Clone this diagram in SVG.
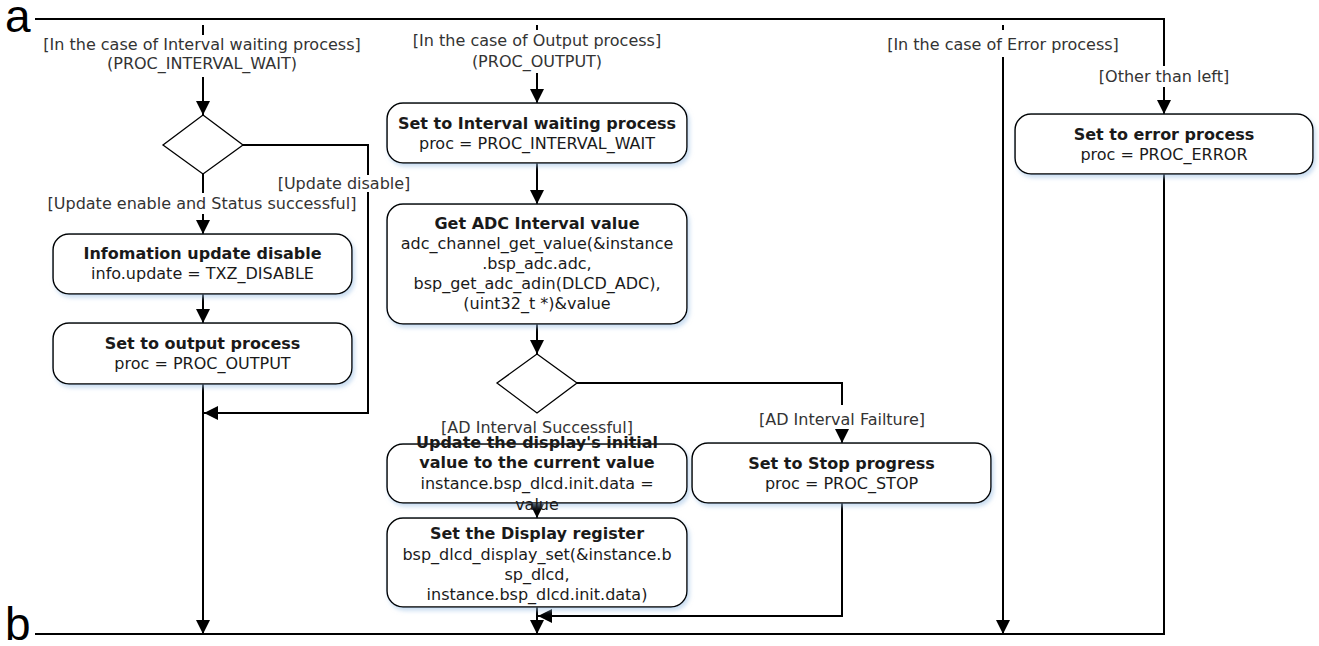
<svg xmlns="http://www.w3.org/2000/svg" width="1319" height="646" viewBox="0 0 1319 646">
<style>
.box{fill:#fff;stroke:#000;stroke-width:1.5;filter:url(#sh)}
.dia{fill:#fff;stroke:#000;stroke-width:1.3}
.c{fill:none;stroke:#000;stroke-width:2}
.a{marker-end:url(#ah)}
text{font-family:"DejaVu Sans",Verdana,sans-serif;font-size:16px;text-anchor:middle;fill:#1a1a1a}
.b{font-weight:bold}
.lbl{fill:#333}
.big{font-family:"Liberation Sans",Arial,sans-serif;font-size:46px;text-anchor:start;fill:#000}
</style>
<defs>
<marker id="ah" markerUnits="userSpaceOnUse" markerWidth="14" markerHeight="14" refX="14" refY="7" orient="auto">
<path d="M0,0 L14,7 L0,14 z" fill="#000"/>
</marker>
<filter id="sh" x="-10%" y="-20%" width="120%" height="150%">
<feDropShadow dx="2" dy="3" stdDeviation="2" flood-color="#9cc0e4" flood-opacity="0.55"/>
</filter>
</defs>
<rect width="1319" height="646" fill="#fff"/>

<g id="bars">
<text class="big" x="5" y="32">a</text>
<text class="big" x="5" y="640">b</text>
</g>

<g id="connectors">
<path class="c" d="M35,19 H1164 V66"/>
<path class="c a" d="M1164,87 V114"/>
<path class="c" d="M203,25 V35"/>
<path class="c a" d="M203,77 V115"/>
<path class="c" d="M203,174 V193"/>
<path class="c a" d="M203,214 V234"/>
<path class="c a" d="M203,294 V323"/>
<path class="c a" d="M203,384 V634"/>
<path class="c" d="M243,145 H368 V175"/>
<path class="c a" d="M368,192 V413 H204"/>
<path class="c" d="M537,25 V30"/>
<path class="c a" d="M537,73 V103"/>
<path class="c a" d="M537,163 V204"/>
<path class="c a" d="M537,324 V354"/>
<path class="c a" d="M537,503 V518"/>
<path class="c a" d="M537,607 V634"/>
<path class="c" d="M577,383 H842 V405"/>
<path class="c a" d="M842,429 V443"/>
<path class="c a" d="M842,503 V616 H538"/>
<path class="c" d="M1003,25 V30"/>
<path class="c a" d="M1003,57 V634"/>
<path class="c" d="M1164,174 V634 H35"/>
</g>

<g id="labels">
<text class="lbl" x="202" y="50">[In the case of Interval waiting process]</text>
<text class="lbl" x="202" y="69">(PROC_INTERVAL_WAIT)</text>
<text class="lbl" x="537" y="46">[In the case of Output process]</text>
<text class="lbl" x="537" y="67">(PROC_OUTPUT)</text>
<text class="lbl" x="1003" y="50">[In the case of Error process]</text>
<text class="lbl" x="1164" y="82">[Other than left]</text>
<text class="lbl" x="344" y="189">[Update disable]</text>
<text class="lbl" x="202" y="209">[Update enable and Status successful]</text>
<text class="lbl" x="537" y="433">[AD Interval Successful]</text>
<text class="lbl" x="842" y="425">[AD Interval Failture]</text>
</g>

<g id="decision1"><polygon class="dia" points="203,115 243,145 203,174 163,145"/></g>
<g id="decision2"><polygon class="dia" points="537,354 577,383 537,413 497,383"/></g>

<g id="info-update-disable">
<rect class="box" x="53" y="234" width="299" height="60" rx="16"/>
<text class="b" x="202.5" y="259">Infomation update disable</text>
<text x="202.5" y="279">info.update = TXZ_DISABLE</text>
</g>

<g id="set-output">
<rect class="box" x="53" y="323" width="299" height="61" rx="16"/>
<text class="b" x="202.5" y="349">Set to output process</text>
<text x="202.5" y="369">proc = PROC_OUTPUT</text>
</g>

<g id="set-interval-wait">
<rect class="box" x="387" y="103" width="300" height="60" rx="16"/>
<text class="b" x="537" y="129">Set to Interval waiting process</text>
<text x="537" y="149">proc = PROC_INTERVAL_WAIT</text>
</g>

<g id="get-adc">
<rect class="box" x="387" y="204" width="300" height="120" rx="16"/>
<text class="b" x="537" y="229">Get ADC Interval value</text>
<text x="537" y="249">adc_channel_get_value(&amp;instance</text>
<text x="537" y="269">.bsp_adc.adc,</text>
<text x="537" y="289">bsp_get_adc_adin(DLCD_ADC),</text>
<text x="537" y="309">(uint32_t *)&amp;value</text>
</g>

<g id="update-display-initial">
<rect class="box" x="387" y="444" width="300" height="59" rx="16"/>
<text class="b" x="537" y="448">Update the display's initial</text>
<text class="b" x="537" y="468">value to the current value</text>
<text x="537" y="489">instance.bsp_dlcd.init.data =</text>
<text x="537" y="510">value</text>
</g>

<g id="set-stop">
<rect class="box" x="692" y="443" width="299" height="60" rx="16"/>
<text class="b" x="841.5" y="469">Set to Stop progress</text>
<text x="841.5" y="489">proc = PROC_STOP</text>
</g>

<g id="set-display-register">
<rect class="box" x="387" y="518" width="300" height="89" rx="16"/>
<text class="b" x="537" y="539">Set the Display register</text>
<text x="537" y="560">bsp_dlcd_display_set(&amp;instance.b</text>
<text x="537" y="580">sp_dlcd,</text>
<text x="537" y="600">instance.bsp_dlcd.init.data)</text>
</g>

<g id="set-error">
<rect class="box" x="1015" y="114" width="298" height="60" rx="16"/>
<text class="b" x="1164" y="140">Set to error process</text>
<text x="1164" y="160">proc = PROC_ERROR</text>
</g>
</svg>
